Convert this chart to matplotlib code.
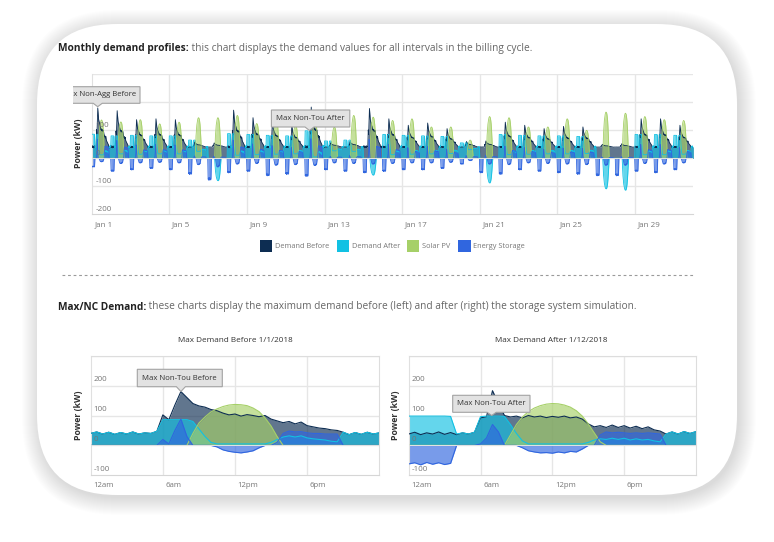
import numpy as np
import matplotlib
matplotlib.use('Agg')
import matplotlib.pyplot as plt
from matplotlib.patches import FancyBboxPatch, Rectangle, Polygon

plt.rcParams['font.family'] = ['Open Sans', 'DejaVu Sans']

# ---- data (kW, half-hour steps 0..24h) ----
hours = np.arange(0, 24.01, 0.5)

jan1_before = [40, 45, 38, 44, 37, 43, 38, 45, 38, 42, 40, 47,
               102, 86, 135, 180, 160, 140, 132, 128, 120, 116, 108, 102,
               105, 98, 103, 100, 96, 100, 88, 82, 76, 80, 72, 78,
               66, 62, 58, 56, 52, 50, 44, 36, 43, 37, 44, 38, 42]
jan1_after = [40, 45, 38, 44, 37, 43, 38, 45, 38, 42, 40, 47,
              86, 86, 86, 86, 86, 80, 55, 30, 10, 5, 5, 5,
              5, 5, 5, 5, 5, 5, 10, 20, 28, 32, 28, 32,
              25, 22, 20, 18, 14, 12, 44, 36, 43, 37, 44, 38, 42]
jan1_solar = [0, 0, 0, 0, 0, 0, 0, 0, 0, 0, 0, 0,
              0, 0, 0, 0, 0, 40, 75, 95, 112, 122, 130, 135,
              137, 136, 133, 125, 113, 92, 65, 30, 0, 0, 0, 0,
              0, 0, 0, 0, 0, 0, 0, 0, 0, 0, 0, 0, 0]
jan1_storage = [0, 0, 0, 0, 0, 0, 0, 0, 0, 0, 0, 0,
                20, 5, 50, 88, 30, 0, 0, 0, 0, -5, -15, -20,
                -23, -25, -22, -18, -8, 0, 0, 10, 40, 48, 45, 46,
                42, 40, 40, 38, 38, 38, 0, 0, 0, 0, 0, 0, 0]

jan12_before = [38, 44, 36, 42, 38, 45, 37, 43, 36, 42, 38, 44,
                92, 96, 183, 140, 100, 95, 98, 92, 100, 95, 98, 93,
                97, 94, 98, 92, 95, 88, 72, 62, 66, 60, 68, 60,
                66, 58, 64, 56, 62, 52, 48, 38, 45, 38, 46, 40, 46]
jan12_after = [98, 98, 98, 98, 98, 98, 98, 97, 38, 42, 38, 44,
               96, 98, 98, 98, 97, 70, 40, 15, 5, 5, 5, 5,
               5, 5, 5, 5, 5, 5, 10, 18, 22, 20, 24, 20,
               24, 18, 22, 18, 20, 15, 12, 38, 45, 38, 46, 40, 46]
jan12_solar = [0, 0, 0, 0, 0, 0, 0, 0, 0, 0, 0, 0,
               0, 0, 0, 0, 0, 35, 70, 95, 113, 125, 133, 138,
               140, 139, 135, 128, 116, 98, 72, 42, 12, 0, 0, 0,
               0, 0, 0, 0, 0, 0, 0, 0, 0, 0, 0, 0, 0]
jan12_storage = [-62, -58, -65, -57, -63, -58, -64, -60, 0, 0, 0, 0,
                 5, 25, 70, 45, 0, 0, 0, -8, -18, -22, -25, -24,
                 -26, -22, -25, -20, -22, -12, 0, 0, 35, 45, 42, 44,
                 42, 40, 42, 40, 42, 40, 38, 0, 0, 0, 0, 0, 0]

# per-day readings for the month view (Jan 1 .. Jan 31)
peak_before = [180, 170, 138, 141, 138, 58, 55, 172, 145, 133, 118, 183, 55, 60, 178, 141,
               118, 126, 106, 60, 62, 129, 118, 106, 114, 112, 50, 52, 141, 141, 118]
peak_solar = [137, 130, 138, 123, 129, 145, 145, 153, 124, 141, 118, 140, 112, 153, 147, 135,
              141, 112, 112, 65, 149, 145, 112, 112, 141, 100, 165, 161, 149, 138, 135]
peak_after = [86, 80, 82, 80, 80, 65, 60, 88, 85, 82, 80, 98, 62, 65, 90, 85,
              82, 80, 78, 55, 62, 85, 82, 80, 80, 78, 60, 62, 85, 85, 82]
charge_min = [-30, -45, -40, -35, -40, -55, -75, -50, -45, -60, -55, -62, -40, -45, -50, -45,
              -40, -40, -35, -20, -50, -55, -40, -45, -50, -55, -60, -60, -45, -50, -40]
export_dip = [0, 0, 0, 0, 0, 0, -80, 0, 0, 0, 0, 0, 0, 0, -60, 0,
              0, 0, 0, 0, -88, 0, 0, 0, 0, 0, -109, -114, 0, 0, 0]

day_ticks = [0, 4, 8, 12, 16, 20, 24, 28]
day_labels = ['Jan 1', 'Jan 5', 'Jan 9', 'Jan 13', 'Jan 17', 'Jan 21', 'Jan 25', 'Jan 29']
hour_ticks = [0, 6, 12, 18]
hour_labels = ['12am', '6am', '12pm', '6pm']
series_names = ['Demand Before', 'Demand After', 'Solar PV', 'Energy Storage']
colors = ['#0d2d52', '#11c1e3', '#a6d068', '#3066df']

# ---- build the month series from the day shapes and the daily peaks ----
NIGHT = 40.0
b1 = np.array(jan1_before, float)
s1 = np.array(jan1_solar, float)
a12 = np.array(jan12_after, float)
st12 = np.array(jan12_storage, float)
solar_norm = s1 / s1.max()

mt, mb, ma, ms, me = [], [], [], [], []
for d in range(31):
    kb = (peak_before[d] - NIGHT) / (b1.max() - NIGHT)
    bef = NIGHT + (b1 - NIGHT) * kb
    sol = solar_norm * peak_solar[d]
    aft = NIGHT + (a12 - NIGHT) * (peak_after[d] - NIGHT) / (98 - NIGHT)
    if export_dip[d] < 0:
        aft = np.minimum(aft, export_dip[d] * solar_norm)
    sto = np.where(st12 < 0, st12 * charge_min[d] / -62.0,
                   st12 * (peak_before[d] - NIGHT) / (183 - NIGHT))
    n = 49 if d == 30 else 48
    mt.append(d + hours[:n] / 24.0)
    mb.append(bef[:n]); ma.append(aft[:n]); ms.append(sol[:n]); me.append(sto[:n])
month_t = np.concatenate(mt)
month_series = [np.concatenate(mb), np.concatenate(ma), np.concatenate(ms), np.concatenate(me)]

# ---- figure in pixel units ----
W, H = 774, 542
PT = 0.72  # points per pixel at dpi 100
fig = plt.figure(figsize=(W / 100, H / 100), dpi=100)
fig.patch.set_facecolor('white')


def rect(x0, y0, x1, y1):
    return [x0 / W, 1 - y1 / H, (x1 - x0) / W, (y1 - y0) / H]


bg = fig.add_axes([0, 0, 1, 1], zorder=0)
bg.set_xlim(0, W); bg.set_ylim(H, 0); bg.axis('off')

# card with soft shadow
for i in range(18):
    bg.add_patch(FancyBboxPatch((37 - i + 2, 24 - i + 3), 700 + 2 * i, 471 + 2 * i,
                                boxstyle='round,pad=0,rounding_size=%d' % (80 + i),
                                fc='black', ec='none', alpha=0.006))
bg.add_patch(FancyBboxPatch((37, 24), 700, 471, boxstyle='round,pad=0,rounding_size=80',
                            fc='white', ec='none'))

GRID = '#e6e6e6'
LBL = '#777777'


def style_axes(ax, xs, ys, box):
    ax.set_facecolor('none')
    ax.set_xticks([]); ax.set_yticks([])
    for v in ys:
        ax.axhline(v, color=GRID, lw=1, zorder=0)
    for v in xs:
        ax.axvline(v, color=GRID, lw=1, zorder=0)
    for s in ['top', 'right']:
        ax.spines[s].set_visible(box)
        ax.spines[s].set_color('#dddddd')
    ax.spines['left'].set_color('#e0e0e0')
    ax.spines['bottom'].set_color('#d6d6d6')


def draw_series(ax, t, series, lw):
    for y, c in zip(series, colors):
        y = np.asarray(y, float)
        ax.fill_between(t, 0, y, color=c, alpha=0.65, lw=0, zorder=2)
        ax.plot(t, y, color=c, lw=lw, zorder=3)
    ax.axhline(0, color='#e4e4e4', lw=0.7, zorder=4)


def ylabels(ax, vals, dx, dy, size):
    for v in vals:
        ax.annotate('%d' % v, xy=(0, v), xycoords=ax.get_yaxis_transform(),
                    xytext=(dx * PT, dy * PT), textcoords='offset points',
                    ha='left', va='center', fontsize=size, color=LBL, zorder=6,
                    annotation_clip=False)


def xlabels(ax, pos, labels, dy, size):
    for p, s in zip(pos, labels):
        ax.annotate(s, xy=(p, 0), xycoords=ax.get_xaxis_transform(),
                    xytext=(2.6 * PT, -dy * PT), textcoords='offset points',
                    ha='left', va='center', fontsize=size, color=LBL,
                    annotation_clip=False)


# ---- month chart ----
ax1 = fig.add_axes(rect(91.7, 74.3, 693.3, 214.3), zorder=2)
ax1.set_xlim(0, 31); ax1.set_ylim(-200, 300)
style_axes(ax1, day_ticks[1:], [-100, 0, 100, 200, 300], False)
draw_series(ax1, month_t, month_series, 0.6)
ylabels(ax1, [100, 0, -100, -200], 3.5, 5, 5.8)
xlabels(ax1, day_ticks, day_labels, 10.7, 5.8)

# ---- day charts ----
ax2 = fig.add_axes(rect(90.7, 355.7, 379.3, 475.3), zorder=2)
ax3 = fig.add_axes(rect(408.7, 355.7, 696.0, 475.3), zorder=2)
for ax, data in [(ax2, [jan1_before, jan1_after, jan1_solar, jan1_storage]),
                 (ax3, [jan12_before, jan12_after, jan12_solar, jan12_storage])]:
    ax.set_xlim(0, 24); ax.set_ylim(-100, 300)
    style_axes(ax, hour_ticks[1:], [0, 100, 200, 300], True)
    draw_series(ax, hours, data, 0.8)
    ylabels(ax, [200, 100, 0, -100], 2.6, 6, 5.8)
    xlabels(ax, hour_ticks, hour_labels, 10.4, 5.6)

# ---- overlay: texts, legend, tooltips ----
ov = fig.add_axes([0, 0, 1, 1], zorder=5)
ov.set_xlim(0, W); ov.set_ylim(H, 0); ov.axis('off'); ov.patch.set_alpha(0)
renderer = fig.canvas.get_renderer()


def heading(x, y, bold, rest):
    t = ov.text(x, y, bold, fontsize=7.3, fontweight='bold', color='#222222', va='center')
    bb = t.get_window_extent(renderer)
    ov.text(bb.x1, y, ' ' + rest, fontsize=7.3, color='#666666', va='center')


heading(58, 48, 'Monthly demand profiles:',
        'this chart displays the demand values for all intervals in the billing cycle.')
heading(58, 307, 'Max/NC Demand:',
        'these charts display the maximum demand before (left) and after (right) the storage system simulation.')

for x, y in [(78.3, 143), (78.3, 415), (395.7, 415)]:
    ov.text(x, y, 'Power (kW)', rotation=90, fontsize=6.3, fontweight='bold',
            color='#333333', ha='center', va='center')

ov.text(235, 341, 'Max Demand Before 1/1/2018', fontsize=5.9, color='#333333', ha='center', va='center')
ov.text(551, 341, 'Max Demand After 1/12/2018', fontsize=5.9, color='#333333', ha='center', va='center')

# legend
for x, name, c in zip([260, 336.7, 406.7, 458.3], series_names, colors):
    ov.add_patch(Rectangle((x, 240.3), 12.2, 12, fc=c, ec='none'))
    ov.text(x + 15, 246.3, name, fontsize=5.3, color=LBL, va='center')

# separator
ov.plot([62, 695], [275, 275], ls=(0, (2.5, 2.5)), color='#9a9a9a', lw=0.8)


def tooltip(x0, y0, x1, y1, tx, ty, text, clip_x=None):
    if clip_x is None:
        host = ov
    else:
        # the chart container cuts this tooltip on its left side
        host = fig.add_axes(rect(clip_x, y0 - 4, x1 + 4, ty + 4), zorder=6)
        host.set_xlim(clip_x, x1 + 4); host.set_ylim(ty + 4, y0 - 4)
        host.axis('off'); host.patch.set_alpha(0)
    verts = [(x0, y0), (x1, y0), (x1, y1), (tx + 4.5, y1), (tx, ty), (tx - 4.5, y1), (x0, y1)]
    host.add_patch(Polygon(verts, closed=True, fc='#e2e2e2', ec='#a3a3a3', lw=0.8, zorder=7))
    if clip_x is None:
        host.text((x0 + x1) / 2, (y0 + y1) / 2, text, fontsize=5.6, color='#333333',
                  ha='center', va='center', zorder=8)
    else:
        host.text(x1 - 4, (y0 + y1) / 2, text, fontsize=5.6, color='#333333',
                  ha='right', va='center', zorder=8, clip_on=True)


tooltip(55, 86.7, 140, 103.3, 97.7, 106.7, 'Max Non-Agg Before', clip_x=73.3)
tooltip(271.4, 110, 349.8, 127, 309.5, 130.5, 'Max Non-Tou After')
tooltip(137.3, 369.3, 222.3, 386.7, 180.9, 391.5, 'Max Non-Tou Before')
tooltip(452.7, 395.3, 530, 412.3, 491.7, 415.5, 'Max Non-Tou After')

fig.savefig('out.png', dpi=100, facecolor='white')
